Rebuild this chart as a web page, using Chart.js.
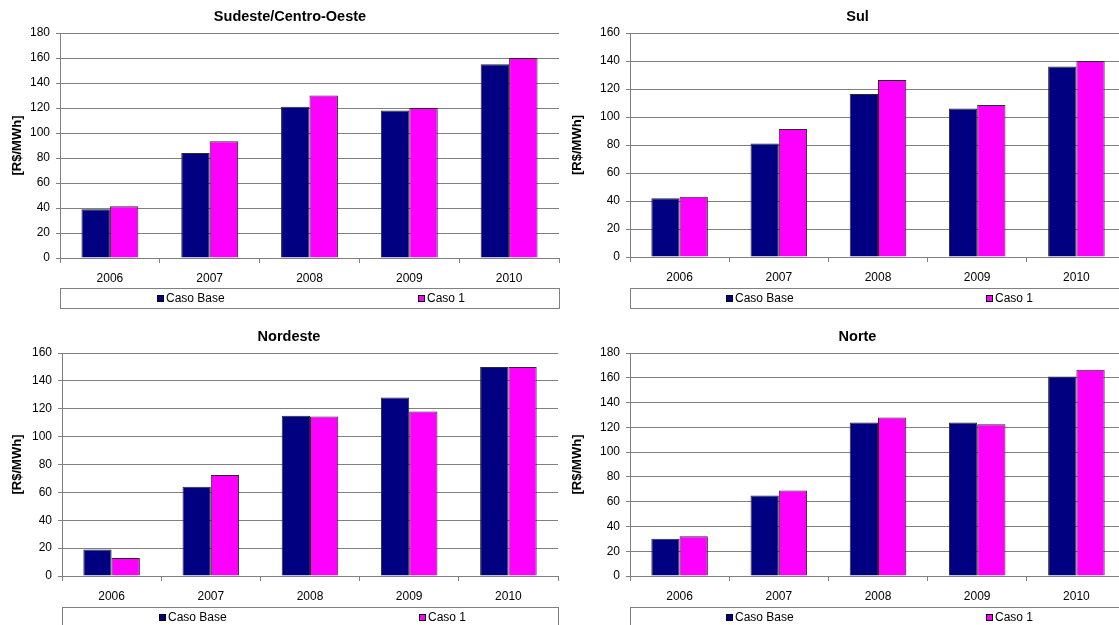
<!DOCTYPE html>
<html>
<head>
<meta charset="utf-8">
<title>Preço de liquidação por subsistema</title>
<script src="https://cdn.jsdelivr.net/npm/chart.js@4.4.1/dist/chart.umd.min.js"></script>
<style>
  html, body { margin: 0; padding: 0; background: #fff; overflow: hidden; width: 1119px; height: 625px; }
  canvas { position: absolute; display: block; }
</style>
</head>
<body>
<canvas id="c1"></canvas>
<canvas id="c2"></canvas>
<canvas id="c3"></canvas>
<canvas id="c4"></canvas>
<script>
// Categories and series values (R$/MWh)
const years = ['2006', '2007', '2008', '2009', '2010'];
const seriesNames = ['Caso Base', 'Caso 1'];

const sudesteBase  = [39, 84, 121, 118, 155];
const sudesteCaso1 = [41.5, 93.5, 130, 120, 160];

const sulBase  = [42, 81, 116.5, 106, 136];
const sulCaso1 = [43, 91.5, 126.5, 108.5, 140];

const nordesteBase  = [19, 64, 115, 128, 150];
const nordesteCaso1 = [13, 72.5, 114.5, 118, 150];

const norteBase  = [30, 65, 124, 124, 161];
const norteCaso1 = [32, 69, 128, 122.5, 166.5];

const panelTitles = ['Sudeste/Centro-Oeste', 'Sul', 'Nordeste', 'Norte'];
const axisMax = [180, 160, 160, 180];
const axisStep = 20;
const unitLabel = '[R$/MWh]';

const FONT = '"Liberation Sans", Arial, Helvetica, sans-serif';
const BASE_COLOR = '#000080';
const CASO1_COLOR = '#FF00FF';
const GRID = '#808080';

// Title and boxed bottom legend, drawn on top of each chart
const panelDecor = {
  id: 'panelDecor',
  afterDraw(chart, args, opts) {
    const ctx = chart.ctx;
    ctx.save();
    ctx.fillStyle = '#000';
    ctx.font = 'bold 14.5px ' + FONT;
    ctx.textAlign = 'center';
    ctx.textBaseline = 'middle';
    ctx.fillText(opts.title, opts.titleX, opts.titleY);

    const lb = opts.legendBox;
    ctx.strokeStyle = GRID;
    ctx.lineWidth = 1;
    ctx.strokeRect(lb.left + 0.5, lb.top + 0.5, lb.width, lb.height);

    const cy = lb.top + lb.height / 2 + 0.5;
    ctx.font = '12px ' + FONT;
    ctx.textAlign = 'left';
    chart.data.datasets.forEach((ds, i) => {
      const x = lb.left + opts.itemX[i];
      ctx.fillStyle = ds.backgroundColor;
      ctx.fillRect(x, Math.round(cy - 4), 7, 7);
      ctx.strokeStyle = '#000';
      ctx.strokeRect(x + 0.5, Math.round(cy - 4) + 0.5, 6, 6);
      ctx.fillStyle = '#000';
      ctx.fillText(ds.label, x + 9, cy);
    });
    ctx.restore();
  }
};

function makePanel(id, idx, base, caso1, geo) {
  const cv = document.getElementById(id);
  cv.width = geo.w; cv.height = geo.h;
  cv.style.left = geo.left + 'px'; cv.style.top = geo.top + 'px';
  cv.style.width = geo.w + 'px'; cv.style.height = geo.h + 'px';

  return new Chart(cv, {
    type: 'bar',
    data: {
      labels: years,
      datasets: [
        { label: seriesNames[0], data: base, backgroundColor: BASE_COLOR,
          borderColor: '#2a2a2a', borderWidth: 1 },
        { label: seriesNames[1], data: caso1, backgroundColor: CASO1_COLOR,
          borderColor: '#2a2a2a', borderWidth: 1 }
      ]
    },
    options: {
      responsive: false,
      animation: false,
      events: [],
      devicePixelRatio: 1,
      datasets: { bar: { categoryPercentage: 0.57, barPercentage: 1.0 } },
      layout: { padding: { left: 0, top: geo.plot.top, right: geo.w - geo.plot.right, bottom: 0 } },
      scales: {
        x: {
          offset: true,
          grid: { offset: true, drawOnChartArea: false, drawTicks: true, tickLength: 5, color: GRID },
          border: { display: true, color: GRID, width: 1 },
          ticks: { color: '#000', font: { family: FONT, size: 12 }, padding: 8, maxRotation: 0 },
          afterFit(scale) { scale.height = geo.h - geo.plot.bottom; }
        },
        y: {
          min: 0, max: axisMax[idx],
          ticks: { stepSize: axisStep, color: '#000', font: { family: FONT, size: 12 }, padding: 6 },
          grid: { color: GRID, drawTicks: true, tickLength: 4 },
          border: { display: true, color: GRID, width: 1 },
          title: { display: true, text: unitLabel, color: '#000',
                   font: { family: FONT, size: 13, weight: 'bold' }, padding: { top: 10, bottom: 0 } },
          afterFit(scale) { scale.width = geo.plot.left; }
        }
      },
      plugins: {
        legend: { display: false },
        title: { display: false },
        tooltip: { enabled: false },
        panelDecor: {
          title: panelTitles[idx], titleX: geo.titleX, titleY: 17,
          legendBox: geo.legend, itemX: geo.itemX
        }
      }
    },
    plugins: [panelDecor]
  });
}

makePanel('c1', 0, sudesteBase, sudesteCaso1, {
  left: 0, top: 0, w: 580, h: 320,
  plot: { left: 60, top: 33, right: 559, bottom: 258 },
  titleX: 290, legend: { left: 60, top: 288, width: 499, height: 20 }, itemX: [97, 358]
});
makePanel('c2', 1, sulBase, sulCaso1, {
  left: 560, top: 0, w: 580, h: 320,
  plot: { left: 70, top: 33, right: 566, bottom: 257 },
  titleX: 297.5, legend: { left: 70, top: 288, width: 520, height: 20 }, itemX: [96, 356]
});
makePanel('c3', 2, nordesteBase, nordesteCaso1, {
  left: 0, top: 320, w: 580, h: 305,
  plot: { left: 62, top: 33, right: 558, bottom: 256 },
  titleX: 289, legend: { left: 62, top: 287, width: 496, height: 20 }, itemX: [97, 357]
});
makePanel('c4', 3, norteBase, norteCaso1, {
  left: 560, top: 320, w: 580, h: 305,
  plot: { left: 70, top: 33, right: 566, bottom: 256 },
  titleX: 297.5, legend: { left: 70, top: 287, width: 520, height: 20 }, itemX: [96, 356]
});
</script>
</body>
</html>
